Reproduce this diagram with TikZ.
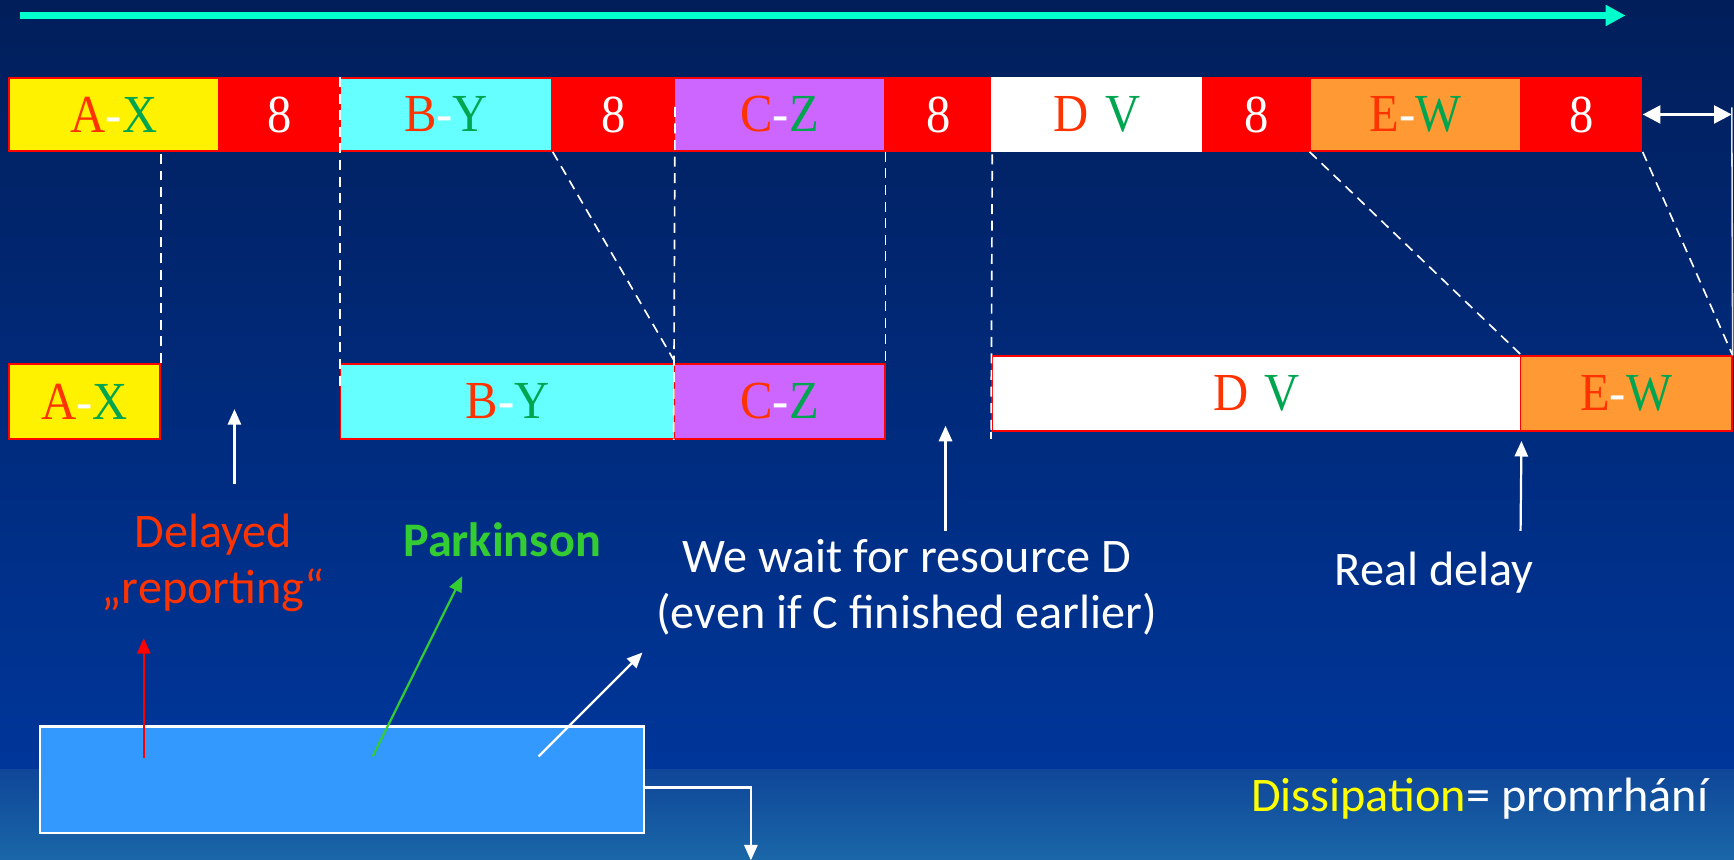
\documentclass[tikz,border=0pt]{standalone}
\usepackage{fontspec}
\setmainfont{Carlito}
\newfontfamily\tnr{Liberation Serif}
\usetikzlibrary{arrows.meta}
\definecolor{navyTop}{HTML}{011E5A}
\definecolor{navyMid}{HTML}{00369A}
\definecolor{bandTop}{HTML}{0F4699}
\definecolor{bandBot}{HTML}{1A67A8}
\definecolor{lred}{HTML}{FF3300}
\definecolor{lgreen}{HTML}{00A550}
\definecolor{cyanbox}{HTML}{66FFFF}
\definecolor{purplebox}{HTML}{CC66FF}
\definecolor{orangebox}{HTML}{FF9933}
\definecolor{bluebox}{HTML}{3399FF}
\definecolor{parkgreen}{HTML}{33CC33}
\definecolor{arrcyan}{HTML}{00FFCC}
\definecolor{dissy}{HTML}{FFFF00}
\newcommand\tasklbl[2]{\scalebox{1}[1.1]{\textcolor{lred}{#1}\textcolor{white}{-}\textcolor{lgreen}{#2}}}
\begin{document}
\begin{tikzpicture}[x=0.5pt,y=-0.5pt,
  task/.style={draw=red, line width=0.8pt, inner sep=0pt, minimum height=33pt,
    font=\tnr\fontsize{22}{26}\selectfont},
  eight/.style={fill=red, inner sep=0pt, minimum height=33.5pt, text=white,
    font=\tnr\fontsize{22}{26}\selectfont},
  guide/.style={white, line width=0.75pt, dash pattern=on 4.5pt off 3pt},
  warr/.style={white, line width=1pt, -{Triangle[length=7pt,width=6pt]}},
  lbl/.style={font=\fontsize{21.8}{25.5}\selectfont, align=center, inner sep=0pt}]
\useasboundingbox (0,0) rectangle (1568,777.6);
\shade[top color=navyTop, bottom color=navyMid] (0,0) rectangle (1568,696);
\shade[top color=bandTop, bottom color=bandBot] (0,696) rectangle (1568,777.6);
% time arrow
\coordinate (tS) at (18,14);
\coordinate (tE) at (1470,14);
\draw[arrcyan, line width=3pt, -{Triangle[length=9pt,width=9pt]}] (tS) -- (tE);
% top row
\node[fill=red, inner sep=0pt, minimum width=738.5pt, minimum height=33.5pt] (bar) at (746.5,103.5) {};
\node[task, fill=yellow, minimum width=95pt] (AX1) at (103,103.5) {\tasklbl{A}{X}};
\node[eight, minimum width=55pt] (r1) at (253,103.5) {\scalebox{1}[1.1]{8}};
\node[task, fill=cyanbox, minimum width=95.5pt] (BY1) at (403.5,103.5) {\tasklbl{B}{Y}};
\node[eight, minimum width=55.5pt] (r2) at (554.5,103.5) {\scalebox{1}[1.1]{8}};
\node[task, fill=purplebox, minimum width=95pt] (CZ1) at (705,103.5) {\tasklbl{C}{Z}};
\node[eight, minimum width=48.5pt] (r3) at (848.5,103.5) {\scalebox{1}[1.1]{8}};
\node[task, fill=white, draw=white, minimum width=95pt] (DV1) at (992,103.5) {\tasklbl{D}{V}};
\node[eight, minimum width=49pt] (r4) at (1136,103.5) {\scalebox{1}[1.1]{8}};
\node[task, fill=orangebox, minimum width=95pt] (EW1) at (1280,103.5) {\tasklbl{E}{W}};
\node[eight, minimum width=55pt] (r5) at (1430,103.5) {\scalebox{1}[1.1]{8}};
% bottom row
\node[task, fill=yellow, minimum width=68.5pt, minimum height=34pt] (AX2) at (76.5,363) {\tasklbl{A}{X}};
\node[task, fill=cyanbox, minimum width=151pt, minimum height=34pt] (BY2) at (459,363) {\tasklbl{B}{Y}};
\node[task, fill=purplebox, minimum width=95pt, minimum height=34pt] (CZ2) at (705,363) {\tasklbl{C}{Z}};
\node[task, fill=white, minimum width=239pt, minimum height=34pt] (DV2) at (1136,356) {\tasklbl{D}{V}};
\node[task, fill=orangebox, minimum width=95.5pt, minimum height=34pt] (EW2) at (1470.5,356) {\tasklbl{E}{W}};
% guide lines
\draw[guide] (AX2.north east) -- (AX2.north east |- bar.south);
\draw[guide] (BY1.north west) -- ([yshift=-13pt]BY2.north west);
\draw[guide] (BY1.south east) -- (BY2.north east);
\draw[guide] ([yshift=-13.5pt]r2.north east) -- (CZ2.south west);
\draw[guide] (CZ1.south east) -- (CZ2.north east);
\draw[guide] ([yshift=-20pt]r3.north east) -- (DV2.south west);
\draw[white, line width=0.75pt] (DV2.south west) -- ++(0,6);
\draw[guide] (EW1.south west) -- (DV2.north east);
\draw[guide] (r5.south east) -- (EW2.north east);
% slack arrow
\coordinate (slE) at (1566,103.5);
\draw[white, line width=1.4pt, {Triangle[length=8pt,width=8pt]}-{Triangle[length=8pt,width=8pt]}] (r5.east) -- (slE);
\draw[white!80!gray, line width=0.7pt] (1566,97) -- (EW2.north east);
% labels with arrows
\coordinate (a1s) at (212,438); \coordinate (a1e) at (212,370);
\draw[warr] (a1s) -- (a1e);
\coordinate (a2s) at (855,480); \coordinate (a2e) at (855,385);
\draw[warr] (a2s) -- (a2e);
\coordinate (a3s) at (1375,480);
\draw[warr] (a3s) -- ([yshift=-4pt]DV2.south east);
\node[lbl, text=lred] (del) at (193,509) {Delayed\\„reporting“};
\node[lbl, text=parkgreen, font=\bfseries\fontsize{21.8}{25.5}\selectfont] (park) at (454,488) {Parkinson};
\node[lbl, text=white] (wait) at (820,531) {We wait for resource D\\(even if C finished earlier)};
\node[lbl, text=white] (real) at (1297,518) {Real delay};
\node[lbl, text=white, anchor=east] (diss) at (1545,722) {\textcolor{dissy}{Dissipation}= promrhání};
% blue box
\node[fill=bluebox, draw=white, line width=1pt, minimum width=273pt, minimum height=48pt, inner sep=0pt] (blue) at (309,705) {};
\coordinate (rS) at (130,685); \coordinate (rE) at (130,577);
\draw[red, line width=1pt, -{Triangle[length=7pt,width=6pt]}] (rS) -- (rE);
\coordinate (gS) at (337,684); \coordinate (gE) at (418,521);
\draw[parkgreen, line width=1pt, -{Triangle[length=7pt,width=6pt]}] (gS) -- (gE);
\coordinate (wS) at (487,684); \coordinate (wE) at (581,590);
\draw[warr] (wS) -- (wE);
\coordinate (dE) at (679,778);
\draw[white, line width=1pt, -{Triangle[length=7pt,width=6pt]}] ([yshift=-3.5pt]blue.east) -| (dE);
\end{tikzpicture}
\end{document}
